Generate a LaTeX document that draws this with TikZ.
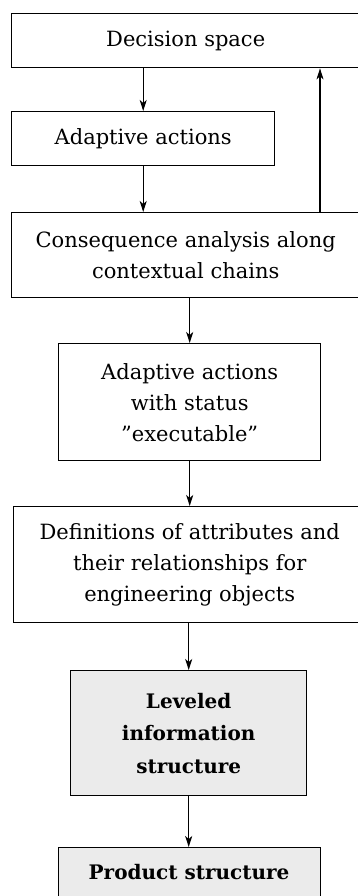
\documentclass[tikz,border=0pt]{standalone}
\usepackage{fontspec}
\setmainfont{DejaVu Serif}
\usetikzlibrary{arrows.meta}
\definecolor{boxgray}{RGB}{235,235,235}
\begin{document}
\begin{tikzpicture}[x=1pt,y=-1pt,
  box/.style={draw, line width=1.4pt, rectangle, inner sep=0pt,
    anchor=north west, align=center,
    font=\fontsize{21}{31}\selectfont},
  keyfont/.style={font=\fontsize{20}{32.5}\selectfont\bfseries},
  keybox/.style={box, fill=boxgray, keyfont},
  arr/.style={line width=1.2pt, -{Stealth[length=11pt,width=7pt,inset=3pt]}}]
\useasboundingbox (0,0) rectangle (358,896);
\clip (0,0) rectangle (358,896);
\fill[white] (0,0) rectangle (358,896);

% boxes of the flow
\node[box, minimum width=348, minimum height=54] (b1) at (11,13) {Decision space};
\node[box, minimum width=263, minimum height=54] (b2) at (11,111) {Adaptive actions};
\node[box, minimum width=348, minimum height=85] (b3) at (11,212)
  {Consequence analysis along\\contextual chains};
\node[box, minimum width=262, minimum height=117] (b4) at (58,343)
  {Adaptive actions\\with status\\"executable"};
\node[box, minimum width=352, minimum height=116] (b5) at (13,506)
  {Definitions of attributes and\\their relationships for\\engineering objects};
\node[keybox, minimum width=236, minimum height=125] (b6) at (70,670)
  {Leveled\\information\\structure};
\node[keybox, minimum width=262, minimum height=70] (b7) at (58,847) {};
\node[keyfont, anchor=base] (t7) at (189,879) {Product structure};

% connectors
\coordinate (fb) at (320,0);
\draw[arr] (b2.north |- b1.south) -- (b2.north);
\draw[arr] (b2.south) -- (b2.south |- b3.north);
\draw[arr] (b3.north -| fb) -- (b1.south -| fb);
\draw[arr] (b4.north |- b3.south) -- (b4.north);
\draw[arr] (b4.south) -- (b4.south |- b5.north);
\draw[arr] (b6.north |- b5.south) -- (b6.north);
\draw[arr] (b6.south) -- (b6.south |- b7.north);
\end{tikzpicture}
\end{document}
